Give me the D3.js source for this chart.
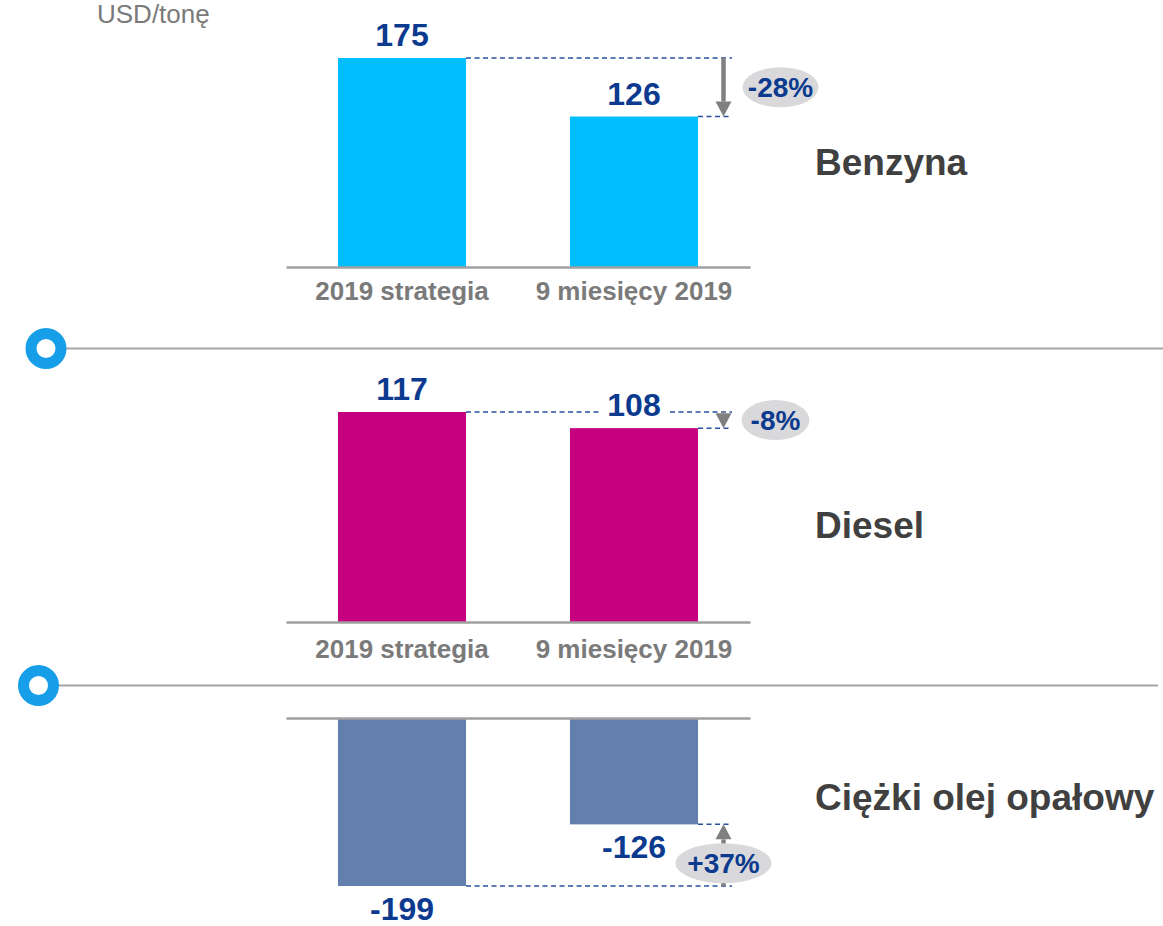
<!DOCTYPE html>
<html>
<head>
<meta charset="utf-8">
<script src="https://cdn.jsdelivr.net/npm/d3@7"></script>
<style>
  body { margin: 0; background: #fff; }
  svg { display: block; font-family: "Liberation Sans", Arial, sans-serif; }
</style>
</head>
<body>
<div id="chart"></div>
<script>
// dane
const unitLabel = "USD/tonę";
const categories = ["2019 strategia", "9 miesięcy 2019"];
const products = ["Benzyna", "Diesel", "Ciężki olej opałowy"];
const benzyna = [175, 126];
const diesel = [117, 108];
const ciezkiOlej = [-199, -126];
const changes = ["-28%", "-8%", "+37%"];

const series = [benzyna, diesel, ciezkiOlej];
const colors = ["#00BEFF", "#C6007E", "#627FAE"];

// uklad paneli (pozycja osi, dlugosc najwyzszego slupka w px itp.)
const panels = [
  { axisY: 267, span: -209, titleY: 175, catBase: 33, pillDx: 57, pillDy: 0, rx: 38 },
  { axisY: 622, span: -210, titleY: 538, catBase: 36, pillDx: 52, pillDy: 0, rx: 34 },
  { axisY: 718, span: 168, titleY: 810, catBase: 0, pillDx: 0, pillDy: 8, rx: 48 }
];

const dividers = [
  { y: 348.5, cx: 46, x2: 1163 },
  { y: 685.5, cx: 38.5, x2: 1158 }
];

const W = 1163, H = 926;
const blue = "#0B3A8E";

const svg = d3.select("#chart")
  .append("svg")
    .attr("width", W)
    .attr("height", H);

const x = d3.scaleBand()
  .domain(categories)
  .range([286, 750])
  .paddingInner(0.448)
  .paddingOuter(0.224);

const arrowX = 723.5, dashEnd = 732;

svg.append("text")
  .attr("x", 97)
  .attr("y", 23)
  .attr("font-size", 26)
  .attr("fill", "#7a7a7a")
  .text(unitLabel);

// separatory
dividers.forEach(d => {
  svg.append("line")
    .attr("x1", d.cx).attr("x2", d.x2)
    .attr("y1", d.y).attr("y2", d.y)
    .attr("stroke", "#a6a6a6")
    .attr("stroke-width", 2);
  svg.append("circle")
    .attr("cx", d.cx).attr("cy", d.y)
    .attr("r", 15)
    .attr("fill", "#fff")
    .attr("stroke", "#169FE8")
    .attr("stroke-width", 11);
});

series.forEach((vals, i) => {
  const p = panels[i];
  const y = d3.scaleLinear()
    .domain([0, vals[0]])
    .range([p.axisY, p.axisY + p.span]);
  const neg = vals[0] < 0;

  const g = svg.append("g");

  // slupki
  g.selectAll("rect.bar")
    .data(vals)
    .join("rect")
      .attr("class", "bar")
      .attr("x", (d, j) => x(categories[j]))
      .attr("width", x.bandwidth())
      .attr("y", d => Math.min(y(d), y(0)))
      .attr("height", d => Math.abs(y(d) - y(0)))
      .attr("fill", colors[i]);

  // os
  const axis = neg
    ? d3.axisTop(x).tickSize(0).tickFormat("").tickSizeOuter(0)
    : d3.axisBottom(x).tickSize(0).tickSizeOuter(0).tickPadding(p.catBase);
  const ax = g.append("g")
    .attr("transform", `translate(0,${y(0)})`)
    .call(axis);
  ax.select(".domain").attr("stroke", "#a0a0a0").attr("stroke-width", 2.5);
  ax.selectAll("text")
    .attr("font-size", 26)
    .attr("font-weight", "bold")
    .attr("fill", "#7a7a7a")
    .attr("font-family", "Liberation Sans, Arial, sans-serif")
    .attr("dy", 0);

  // linie przerywane
  g.selectAll("line.dash")
    .data(vals)
    .join("line")
      .attr("class", "dash")
      .attr("x1", (d, j) => x(categories[j]) + x.bandwidth())
      .attr("x2", dashEnd)
      .attr("y1", d => y(d))
      .attr("y2", d => y(d))
      .attr("stroke", "#2B50A0")
      .attr("stroke-width", 1.5)
      .attr("stroke-dasharray", "5,3.5");

  // etykiety wartosci z bialym tlem
  const labels = g.selectAll("g.val")
    .data(vals)
    .join("g")
      .attr("class", "val");
  const txt = labels.append("text")
    .attr("x", (d, j) => x(categories[j]) + x.bandwidth() / 2)
    .attr("y", d => neg ? y(d) + 34 : y(d) - 12)
    .attr("text-anchor", "middle")
    .attr("font-size", 32)
    .attr("font-weight", "bold")
    .attr("fill", blue)
    .text(d => d);
  txt.each(function() {
    const b = this.getBBox();
    d3.select(this.parentNode).insert("rect", "text")
      .attr("x", b.x - 7).attr("y", b.y + 4)
      .attr("width", b.width + 14).attr("height", b.height - 8)
      .attr("fill", "#fff");
  });

  // strzalka
  const y1 = y(vals[0]), y2 = y(vals[1]);
  const dir = y2 > y1 ? 1 : -1;
  const head = 15;
  g.append("line")
    .attr("x1", arrowX).attr("x2", arrowX)
    .attr("y1", y1).attr("y2", y2 - dir * head)
    .attr("stroke", "#808080")
    .attr("stroke-width", 4.5);
  g.append("path")
    .attr("d", `M${arrowX - 8},${y2 - dir * head} L${arrowX + 8},${y2 - dir * head} L${arrowX},${y2} Z`)
    .attr("fill", "#808080");

  // dymek ze zmiana
  const pcx = arrowX + p.pillDx, pcy = (y1 + y2) / 2 + p.pillDy;
  g.append("ellipse")
    .attr("cx", pcx).attr("cy", pcy)
    .attr("rx", p.rx).attr("ry", 20)
    .attr("fill", "#D9D9DB");
  g.append("text")
    .attr("x", pcx).attr("y", pcy)
    .attr("dy", "0.36em")
    .attr("text-anchor", "middle")
    .attr("font-size", 28)
    .attr("font-weight", "bold")
    .attr("fill", blue)
    .text(changes[i]);

  // tytul
  g.append("text")
    .attr("x", 815)
    .attr("y", p.titleY)
    .attr("font-size", 37)
    .attr("font-weight", "bold")
    .attr("fill", "#404040")
    .text(products[i]);
});
</script>
</body>
</html>
